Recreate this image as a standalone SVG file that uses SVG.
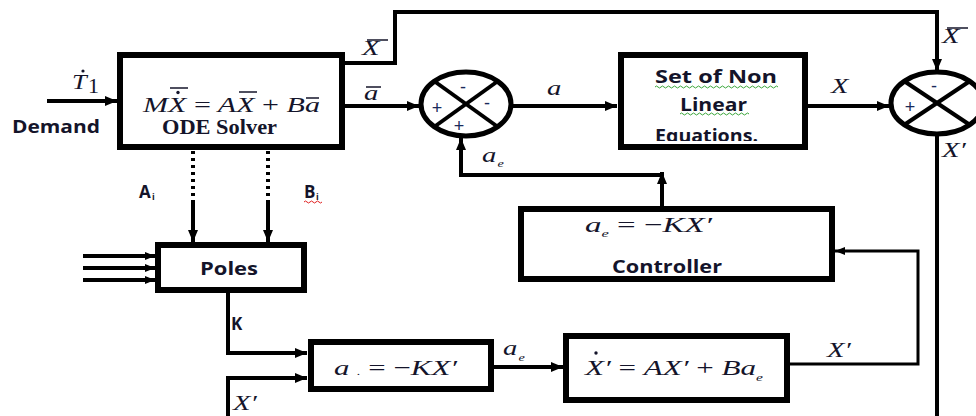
<svg xmlns="http://www.w3.org/2000/svg" width="976" height="416" viewBox="0 0 976 416">
<style>
.box{fill:#fff;stroke:#000;stroke-width:6}
.ln{fill:none;stroke:#000;stroke-width:4}
.thin{fill:none;stroke:#000;stroke-width:3}
.dot{fill:none;stroke:#000;stroke-width:4;stroke-dasharray:3 4}
.sum{fill:#fff;stroke:#000;stroke-width:5}
.m{font-family:"Liberation Serif",serif;font-style:italic;fill:#14142a;font-size:22px}
.b{font-family:"Open Sans","Liberation Sans",sans-serif;font-weight:bold;fill:#14142a}
.bs{font-family:"Liberation Serif",serif;font-weight:bold;fill:#14142a}
.up{font-style:normal}
.sub{font-size:11px}
.bar{stroke:#14142a;stroke-width:1.5}
.sq{fill:none;stroke:#3aa63a;stroke-width:1}
.sqr{fill:none;stroke:#e02020;stroke-width:1}
.sg{font-family:"Liberation Sans",sans-serif;font-size:18px;fill:#1a2a5a;text-anchor:middle}
</style>
<defs>
<marker id="ar" viewBox="0 0 12 10" refX="12" refY="5" markerWidth="12" markerHeight="10" markerUnits="userSpaceOnUse" orient="auto"><path d="M0,0 L12,5 L0,10 z" fill="#000"/></marker>
<marker id="ars" viewBox="0 0 10 8" refX="10" refY="4" markerWidth="10" markerHeight="8" markerUnits="userSpaceOnUse" orient="auto"><path d="M0,0 L10,4 L0,8 z" fill="#000"/></marker>
<clipPath id="clipNL"><rect x="621" y="55" width="184" height="86"/></clipPath>
</defs>

<g id="connectors">
<path class="ln" d="M47,101 L117,101" marker-end="url(#ar)"/>
<path class="ln" d="M345,63 L395,63 L395,12 L937,12 L937,71" marker-end="url(#ar)"/>
<path class="ln" d="M345,106 L419,106" marker-end="url(#ar)"/>
<path class="ln" d="M512,106 L617,106" marker-end="url(#ar)"/>
<path class="ln" d="M808,106 L889,106" marker-end="url(#ar)"/>
<path class="ln" d="M937,134 L937,416"/>
<path class="ln" d="M662,206 L662,172" marker-end="url(#ar)"/>
<path class="ln" d="M662,175 L461,175 L461,138" marker-end="url(#ar)"/>
<path class="dot" d="M193,151 L193,203"/>
<path class="ln" d="M193,203 L193,242" marker-end="url(#ar)"/>
<path class="dot" d="M268,151 L268,203"/>
<path class="ln" d="M268,203 L268,242" marker-end="url(#ar)"/>
<path class="ln" d="M83,256 L155,256" marker-end="url(#ars)"/>
<path class="ln" d="M83,268 L155,268" marker-end="url(#ars)"/>
<path class="ln" d="M83,280 L155,280" marker-end="url(#ars)"/>
<path class="ln" d="M228,293 L228,353 L307,353" marker-end="url(#ar)"/>
<path class="ln" d="M228,416 L228,378 L307,378" marker-end="url(#ar)"/>
<path class="ln" d="M493,367 L563,367" marker-end="url(#ar)"/>
<path class="thin" d="M790,364 L918,364 L918,251 L835,251" marker-end="url(#ars)"/>
</g>

<g id="labels">
<text class="m" transform="translate(72,89) scale(1.2,1)" font-size="23">T</text>
<circle cx="83" cy="71" r="1.6" fill="#14142a"/>
<text class="m up" x="88" y="93" font-size="11">1</text>
<text class="b" x="12" y="133" font-size="17" textLength="88" lengthAdjust="spacingAndGlyphs">Demand</text>
<text class="m" transform="translate(362,55) scale(1.3,1)">X</text>
<line class="bar" x1="367" y1="40" x2="388" y2="40"/>
<text class="m" transform="translate(364,100) scale(1.3,1)">a</text>
<line class="bar" x1="366" y1="87" x2="381" y2="87"/>
<text class="m" transform="translate(547,95) scale(1.3,1)">a</text>
<text class="m" transform="translate(831,93) scale(1.3,1)">X</text>
<text class="m" transform="translate(942,43) scale(1.3,1)">X</text>
<line class="bar" x1="947" y1="28" x2="968" y2="28"/>
<text class="m" transform="translate(942,157) scale(1.3,1)">X′</text>
<text class="m" transform="translate(482,162) scale(1.3,1)">a<tspan class="sub" x="12" dy="5">e</tspan></text>
<text class="b" x="139" y="198" font-size="17">A</text>
<text class="b" x="152" y="200" font-size="9">i</text>
<text class="b" x="304" y="198" font-size="17">B</text>
<text class="b" x="316" y="200" font-size="9">i</text>
<path class="sqr" d="M304,202 q1.5,-2 3,0 t3,0 t3,0 t3,0 t3,0 t3,0"/>
<text class="b" x="231" y="330" font-size="17">K</text>
<text class="m" transform="translate(503,355) scale(1.3,1)">a<tspan class="sub" x="12" dy="6">e</tspan></text>
<text class="m" transform="translate(827,357) scale(1.3,1)">X′</text>
<text class="m" transform="translate(233,410) scale(1.3,1)">X′</text>
</g>

<g id="ode">
<rect class="box" x="120" y="55" width="222" height="92"/>
<text class="m" x="143" y="112" font-size="26" textLength="177" lengthAdjust="spacingAndGlyphs">MX <tspan class="up">=</tspan> AX <tspan class="up">+</tspan> Ba</text>
<line class="bar" x1="170" y1="88" x2="188" y2="88"/>
<circle cx="178" cy="92.5" r="1.7" fill="#14142a"/>
<line class="bar" x1="239" y1="92" x2="257" y2="92"/>
<line class="bar" x1="306" y1="98" x2="319" y2="98"/>
<text class="bs" x="162" y="134" font-size="20" textLength="115" lengthAdjust="spacingAndGlyphs">ODE Solver</text>
</g>

<g id="sum1">
<ellipse class="sum" cx="466" cy="104" rx="45" ry="32"/>
<line class="ln" x1="434" y1="81" x2="498" y2="127"/>
<line class="ln" x1="498" y1="81" x2="434" y2="127"/>
<text class="sg" x="463" y="93">-</text>
<text class="sg" x="487" y="109">-</text>
<text class="sg" x="437" y="114">+</text>
<text class="sg" x="459" y="132">+</text>
</g>

<g id="nonlinear">
<rect class="box" x="621" y="55" width="184" height="92"/>
<g clip-path="url(#clipNL)">
<text class="b" x="655" y="83" font-size="18" textLength="122" lengthAdjust="spacingAndGlyphs">Set of Non</text>
<text class="b" x="680" y="111" font-size="18" textLength="67" lengthAdjust="spacingAndGlyphs">Linear</text>
<text class="b" x="655" y="142" font-size="18" textLength="103" lengthAdjust="spacingAndGlyphs">Equations.</text>
</g>
<path class="sq" d="M655,87 q1.5,-2 3,0 t3,0 t3,0 t3,0 t3,0 t3,0 t3,0 t3,0 t3,0 t3,0 t3,0 t3,0 t3,0 t3,0 t3,0 t3,0 t3,0 t3,0 t3,0 t3,0 t3,0 t3,0 t3,0 t3,0 t3,0 t3,0 t3,0 t3,0 t3,0 t3,0 t3,0 t3,0 t3,0 t3,0 t3,0 t3,0 t3,0 t3,0 t3,0 t3,0 t3,0"/>
<path class="sq" d="M680,114 q1.5,-2 3,0 t3,0 t3,0 t3,0 t3,0 t3,0 t3,0 t3,0 t3,0 t3,0 t3,0 t3,0 t3,0 t3,0 t3,0 t3,0 t3,0 t3,0 t3,0 t3,0 t3,0 t3,0 t3,0"/>
</g>

<g id="sum2">
<ellipse class="sum" cx="937" cy="103" rx="46" ry="31"/>
<line class="ln" x1="904" y1="81" x2="970" y2="125"/>
<line class="ln" x1="970" y1="81" x2="904" y2="125"/>
<text class="sg" x="934" y="92">-</text>
<text class="sg" x="910" y="113">+</text>
</g>

<g id="poles">
<rect class="box" x="158" y="245" width="146" height="45"/>
<text class="b" x="200" y="275" font-size="17" textLength="58" lengthAdjust="spacingAndGlyphs">Poles</text>
</g>

<g id="controller">
<rect class="box" x="521" y="209" width="311" height="70"/>
<text class="m" x="585" y="232" font-size="24" textLength="127" lengthAdjust="spacingAndGlyphs">a<tspan class="sub" dy="5">e</tspan><tspan class="up" dy="-5"> = −</tspan>KX′</text>
<text class="b" x="612" y="273" font-size="17" textLength="110" lengthAdjust="spacingAndGlyphs">Controller</text>
</g>

<g id="gain">
<rect class="box" x="311" y="342" width="180" height="47"/>
<text class="m" x="334" y="375" font-size="25" textLength="123" lengthAdjust="spacingAndGlyphs">a <tspan font-size="10">.</tspan><tspan class="up"> = −</tspan>KX′</text>
</g>

<g id="state">
<rect class="box" x="566" y="336" width="221" height="64"/>
<text class="m" x="585" y="375" font-size="23" textLength="178" lengthAdjust="spacingAndGlyphs">X′<tspan class="up"> = </tspan>AX′<tspan class="up"> + </tspan>Ba<tspan class="sub" dy="6">e</tspan></text>
<circle cx="596" cy="353" r="1.7" fill="#14142a"/>
</g>
</svg>
